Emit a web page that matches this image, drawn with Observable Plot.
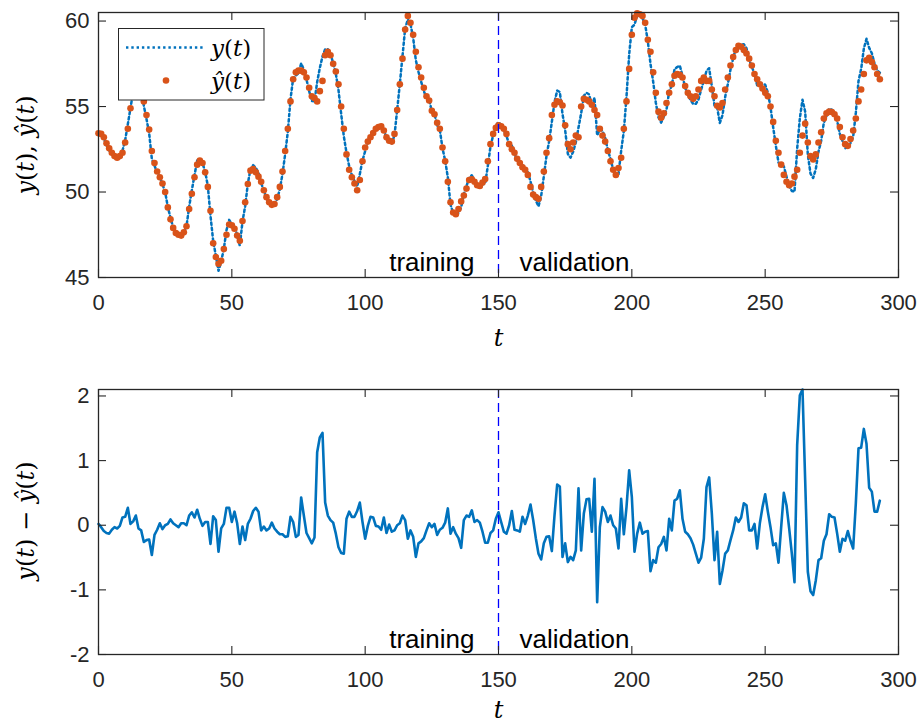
<!DOCTYPE html>
<html><head><meta charset="utf-8">
<script src="https://cdn.jsdelivr.net/npm/d3@7"></script>
<script src="https://cdn.jsdelivr.net/npm/@observablehq/plot@0.6"></script>
<style>
html,body{margin:0;padding:0;background:#fff;}
#chart{position:relative;width:917px;height:722px;overflow:hidden;background:#fff;}
#chart svg{display:block;max-width:none;}
</style></head><body><div id="chart"></div>
<script>
// time index
const tValues = d3.range(0, 294);
// predicted output ŷ(t) (orange dots)
const yhat = [
53.44,53.4,53.2,52.85,52.56,52.3,52.1,52.0,52.1,52.3,
52.9,53.7,54.9,55.8,56.4,56.7,56.3,55.3,54.5,53.65,
52.4,51.7,51.2,50.86,50.5,50.0,49.1,48.4,47.9,47.6,
47.5,47.45,47.64,48.0,49.0,49.9,50.86,51.6,51.84,51.7,
51.15,50.3,48.9,47.0,46.2,45.8,45.98,46.66,47.5,48.1,
48.05,47.85,47.45,47.15,48.3,49.4,50.47,51.25,51.35,51.15,
50.9,50.6,50.1,49.7,49.4,49.25,49.3,49.7,50.3,51.2,
52.4,53.7,55.3,56.6,57.0,57.1,57.1,57.0,56.7,56.1,
55.6,55.5,55.3,55.9,56.5,58.0,58.2,58.0,57.5,57.05,
56.3,55.0,53.7,52.2,51.3,50.86,50.5,50.1,50.7,51.8,
52.6,52.95,53.2,53.45,53.7,53.8,53.85,53.6,53.2,53.0,
52.95,53.4,54.8,56.3,57.8,59.5,60.3,59.9,59.2,58.2,
57.3,56.7,56.1,55.6,55.35,54.75,54.55,54.05,53.7,52.6,
51.8,50.6,49.4,48.8,48.7,49.0,49.45,49.8,50.2,50.7,
50.75,50.6,50.4,50.35,50.55,50.76,51.8,52.8,53.4,53.75,
53.9,53.85,53.7,53.4,52.8,52.5,52.3,51.95,51.7,51.45,
51.3,51.0,50.3,49.85,49.7,49.6,50.3,51.2,52.3,53.15,
54.5,55.1,55.3,55.25,55.06,53.9,52.8,52.5,52.9,53.3,
53.2,55.0,55.45,55.4,55.3,55.1,54.8,54.5,53.7,53.3,
52.95,52.4,51.8,51.3,51.0,51.4,52.0,53.7,55.3,57.2,
59.2,60.2,60.45,60.4,60.3,59.9,58.9,58.2,57.0,55.8,
54.7,54.35,54.6,55.2,55.8,56.3,56.8,56.9,56.85,56.7,
56.2,55.8,55.6,55.45,55.6,56.0,56.5,56.7,56.5,56.5,
56.0,55.6,55.05,54.95,55.2,56.0,56.7,57.4,57.9,58.3,
58.55,58.5,58.3,58.1,57.8,57.4,56.9,56.6,56.3,56.05,
55.8,55.6,55.0,54.1,53.0,52.3,51.6,51.0,50.6,50.4,
50.5,50.9,51.3,52.3,53.3,54.0,52.9,52.1,51.9,52.2,
52.9,53.5,54.3,54.6,54.7,54.68,54.55,54.3,53.8,53.2,
52.8,52.7,53.1,53.6,54.3,55.3,56.0,56.9,57.7,57.85,
57.6,57.3,56.9,56.6
];
// prediction error y(t) - ŷ(t) (lower panel)
const err = [
0.02,-0.03,-0.09,-0.12,-0.13,-0.07,-0.03,-0.05,-0.01,0.12,
0.13,0.27,0.02,0.06,0.15,-0.05,-0.08,-0.26,-0.23,-0.22,
-0.46,-0.15,-0.07,0.03,-0.06,0.0,0.02,0.09,0.03,0.0,
-0.03,0.03,0.03,0.0,0.15,0.2,0.12,0.24,0.1,-0.01,
0.05,0.05,-0.29,0.14,0.08,-0.41,-0.05,0.02,0.27,0.27,
0.05,0.21,0.03,-0.29,-0.02,-0.23,0.02,0.1,0.22,0.27,
0.21,-0.08,-0.02,-0.08,-0.05,0.04,-0.05,-0.1,-0.14,-0.14,
-0.18,-0.17,0.13,0.05,-0.18,-0.15,0.43,0.15,-0.12,-0.2,
-0.28,-0.19,1.13,1.36,1.43,0.35,0.15,0.08,0.04,-0.13,
-0.34,-0.43,-0.44,0.1,0.21,0.13,0.13,0.22,0.35,0.05,
-0.21,-0.01,0.13,0.12,-0.01,-0.02,-0.07,0.12,-0.12,0.01,
-0.1,-0.08,0.0,0.03,0.15,0.08,-0.21,-0.08,-0.18,-0.49,
-0.28,-0.25,-0.2,-0.08,0.03,-0.03,0.02,-0.15,-0.07,-0.04,
0.04,0.26,-0.13,-0.03,-0.13,-0.2,-0.35,0.08,0.15,0.13,
0.23,0.05,0.08,0.04,-0.1,-0.27,-0.27,-0.12,-0.08,0.1,
0.2,0.05,-0.1,-0.13,0.0,0.22,-0.07,-0.08,-0.1,0.13,
0.02,0.15,0.32,0.08,-0.2,-0.44,-0.53,-0.28,-0.18,-0.17,
-0.4,0.15,0.63,0.6,-0.49,-0.28,-0.57,-0.49,-0.54,-0.39,
0.57,-0.39,0.18,0.4,0.41,-0.1,0.72,-1.19,-0.03,0.28,
0.21,0.05,0.15,0.0,-0.05,-0.36,0.41,-0.14,0.28,0.85,
0.44,-0.41,-0.13,0.04,-0.13,-0.1,-0.09,-0.71,-0.54,-0.58,
-0.34,-0.29,-0.18,-0.39,0.1,-0.08,0.38,0.41,0.54,0.1,
-0.1,-0.14,-0.2,-0.3,-0.44,-0.58,-0.5,-0.21,0.59,0.74,
0.18,-0.54,-0.1,-0.91,-0.7,-0.44,-0.39,-0.23,-0.08,0.12,
0.05,0.12,0.34,0.31,-0.08,-0.08,0.02,-0.36,0.03,0.28,
0.48,0.21,-0.03,-0.31,-0.28,-0.58,-0.03,0.5,0.31,-0.05,
-0.44,-0.88,1.24,2.01,2.1,0.7,-0.72,-1.02,-1.08,-0.85,
-0.54,-0.51,-0.24,-0.14,0.17,0.13,0.12,-0.13,-0.41,-0.21,
-0.24,-0.09,-0.24,-0.36,0.34,1.19,1.2,1.49,1.26,0.58,
0.52,0.21,0.21,0.38
];
const xTicks = [0, 50, 100, 150, 200, 250, 300];
const topYTicks = [45, 50, 55, 60];
const botYTicks = [-2, -1, 0, 1, 2];
const splitT = 150;
const phaseLabels = ["training", "validation"];

// measured output y(t) = ŷ(t) + (y(t) - ŷ(t))
const rows = tValues.map((t, i) => ({t, yhat: yhat[i], e: err[i], y: yhat[i] + err[i]}));

const W = 917;
const ML = 98, MR = 19;
const sans = '"Liberation Sans", Arial, Helvetica, sans-serif';
const serif = '"DejaVu Serif", "Liberation Serif", serif';
const axisColor = "#262626";
const blue = "#0072BD", orange = "#D95319";
const dotted = "2.4,2.9";

function panel({height, marginTop, marginBottom, yDomain, yTicks, dataMarks, tLabelDy}) {
  const innerH = height - marginTop - marginBottom;
  const innerW = W - ML - MR;
  const tick = 8;
  return Plot.plot({
    width: W, height, marginLeft: ML, marginRight: MR, marginTop, marginBottom,
    style: {fontFamily: sans, fontSize: "22px", color: axisColor, background: "white", overflow: "visible"},
    x: {domain: [0, 300], ticks: xTicks, tickSize: 0, tickPadding: 17, label: null},
    y: {domain: yDomain, ticks: yTicks, tickSize: 0, tickPadding: 9, label: null, tickFormat: d => String(d)},
    marks: [
      ...dataMarks,
      Plot.ruleX([splitT], {stroke: "#0000ff", strokeWidth: 1.3, strokeDasharray: "9,5"}),
      Plot.text([phaseLabels[0]], {x: splitT, frameAnchor: "bottom", lineAnchor: "bottom", dy: -7, dx: -24, textAnchor: "end", fontSize: 26, fill: "#000", fontFamily: sans}),
      Plot.text([phaseLabels[1]], {x: splitT, frameAnchor: "bottom", lineAnchor: "bottom", dy: -7, dx: 21, textAnchor: "start", fontSize: 26, fill: "#000", fontFamily: sans}),
      Plot.tickX(xTicks, {x: d => d, stroke: axisColor, strokeWidth: 1.1, insetTop: innerH - tick}),
      Plot.tickX(xTicks, {x: d => d, stroke: axisColor, strokeWidth: 1.1, insetBottom: innerH - tick}),
      Plot.tickY(yTicks, {y: d => d, stroke: axisColor, strokeWidth: 1.1, insetRight: innerW - tick}),
      Plot.tickY(yTicks, {y: d => d, stroke: axisColor, strokeWidth: 1.1, insetLeft: innerW - tick}),
      Plot.frame({stroke: axisColor, strokeWidth: 1.3}),
      Plot.text(["t"], {frameAnchor: "bottom", lineAnchor: "bottom", dy: tLabelDy, fontFamily: serif, fontStyle: "italic", fontSize: 24, fill: "#000"})
    ]
  });
}

const topPlot = panel({
  height: 360, marginTop: 12, marginBottom: 83,
  yDomain: [45, 60.5], yTicks: topYTicks, tLabelDy: 68,
  dataMarks: [
    Plot.line(rows, {x: "t", y: "y", stroke: blue, strokeWidth: 2.5, strokeDasharray: dotted}),
    Plot.dot(rows, {x: "t", y: "yhat", r: 3.3, fill: orange, stroke: "none"})
  ]
});
const botPlot = panel({
  height: 362, marginTop: 29, marginBottom: 68,
  yDomain: [-2, 2.1], yTicks: botYTicks, tLabelDy: 63,
  dataMarks: [
    Plot.line(rows, {x: "t", y: "e", stroke: blue, strokeWidth: 2.6, strokeLinejoin: "round"})
  ]
});

const chart = document.getElementById("chart");
topPlot.style.position = "absolute"; topPlot.style.left = "0px"; topPlot.style.top = "0px";
botPlot.style.position = "absolute"; botPlot.style.left = "0px"; botPlot.style.top = "360px";
chart.appendChild(topPlot);
chart.appendChild(botPlot);

// math-style text helper (italic variables, upright parentheses)
function mathText(svg, x, y, parts, rotate, anchor, size) {
  const txt = d3.select(svg).append("text")
    .attr("transform", `translate(${x},${y})` + (rotate ? ` rotate(${rotate})` : ""))
    .attr("text-anchor", anchor || "middle")
    .attr("font-family", serif)
    .attr("font-size", size || 24)
    .attr("fill", "#000");
  for (const [s, it] of parts) {
    txt.append("tspan").attr("font-style", it ? "italic" : "normal").text(s);
  }
  return txt;
}
mathText(topPlot, 34, 145, [["y",1],["(",0],["t",1],[")",0],[", ",0],["ŷ",1],["(",0],["t",1],[")",0]], -90);
mathText(botPlot, 34, 161, [["y",1],["(",0],["t",1],[")",0],[" − ",0],["ŷ",1],["(",0],["t",1],[")",0]], -90);

// legend
const lg = d3.select(topPlot).append("g");
lg.append("rect").attr("x", 118.5).attr("y", 28.5).attr("width", 145.5).attr("height", 71.5)
  .attr("fill", "white").attr("stroke", axisColor).attr("stroke-width", 1);
lg.append("line").attr("x1", 126).attr("x2", 205).attr("y1", 47.5).attr("y2", 47.5)
  .attr("stroke", blue).attr("stroke-width", 2.5).attr("stroke-dasharray", dotted);
lg.append("circle").attr("cx", 166).attr("cy", 80.5).attr("r", 3.3).attr("fill", orange);
mathText(topPlot, 211, 55.5, [["y",1],["(",0],["t",1],[")",0]], 0, "start", 23);
mathText(topPlot, 211, 89, [["ŷ",1],["(",0],["t",1],[")",0]], 0, "start", 23);
</script></body></html>
